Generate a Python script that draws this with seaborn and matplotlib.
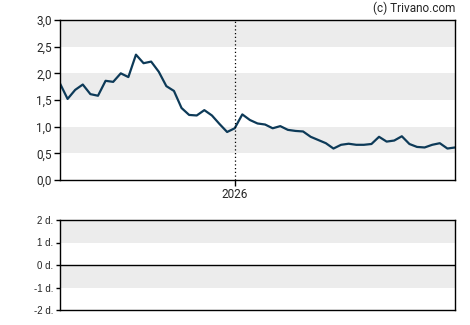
import pandas as pd
import matplotlib.pyplot as plt
import matplotlib.dates as mdates
import seaborn as sns

# Weekly values
values = [1.81, 1.52, 1.69, 1.79, 1.61, 1.58, 1.86, 1.84, 2.00, 1.93,
          2.35, 2.19, 2.22, 2.03, 1.76, 1.67, 1.35, 1.22, 1.21, 1.31,
          1.21, 1.05, 0.90, 0.97, 1.23, 1.125, 1.06, 1.04, 0.97, 1.01,
          0.94, 0.92, 0.91, 0.81, 0.75, 0.69, 0.59, 0.66, 0.68, 0.66,
          0.66, 0.675, 0.81, 0.72, 0.74, 0.82, 0.675, 0.62, 0.61, 0.66,
          0.69, 0.59, 0.61]
dates = pd.date_range('2025-07-24', periods=len(values), freq='7D')
df = pd.DataFrame({'date': dates, 'value': values})

y_ticks = [0.0, 0.5, 1.0, 1.5, 2.0, 2.5, 3.0]
y_labels = ['0,0', '0,5', '1,0', '1,5', '2,0', '2,5', '3,0']
low_ticks = [-2, -1, 0, 1, 2]
low_labels = ['-2 d.', '-1 d.', '0 d.', '1 d.', '2 d.']
year_tick = pd.Timestamp('2026-01-01')

sns.set_style('white')
plt.rcParams['font.family'] = ['Roboto', 'DejaVu Sans']

fig = plt.figure(figsize=(4.7, 3.25), dpi=100)
ax = fig.add_axes([60/470, 145/325, 395/470, 160/325])
ax2 = fig.add_axes([60/470, 15/325, 395/470, 90/325])

# Shaded bands
for lo in [0.5, 1.5, 2.5]:
    ax.axhspan(lo, lo + 0.5, color='#ececec', lw=0, zorder=0)
for lo in [-1, 1]:
    ax2.axhspan(lo, lo + 1, color='#ececec', lw=0, zorder=0)

sns.lineplot(data=df, x='date', y='value', ax=ax, color='#0d3a58', lw=1.6)
ax.axvline(year_tick, color='black', ls=(0, (1, 2)), lw=0.9)

ax.set_xlim(dates[0], dates[-1])
ax.set_ylim(0, 3)
ax.set_yticks(y_ticks)
ax.set_yticklabels(y_labels)
ax.set_xticks([year_tick])
ax.set_xticklabels(['2026'])
ax.set_xlabel('')
ax.set_ylabel('')
ax.tick_params(axis='both', labelsize=8.5, length=4, width=1, direction='out',
               color='black', left=True, bottom=True, pad=2)

ax2.axhline(0, color='black', lw=1)
ax2.set_xlim(0, 1)
ax2.set_ylim(-2, 2)
ax2.set_yticks(low_ticks)
ax2.set_yticklabels(low_labels, family=['Liberation Sans'])
ax2.set_xticks([])
ax2.tick_params(axis='y', labelsize=7, length=3, width=1, direction='out',
                color='black', left=True, pad=2)

for a in (ax, ax2):
    for s in a.spines.values():
        s.set_color('black')
        s.set_linewidth(1)

fig.text(455/470, 1 - 8/325, '(c) Trivano.com', ha='right', va='center', fontsize=8.5)

fig.savefig('out.png', dpi=100)
